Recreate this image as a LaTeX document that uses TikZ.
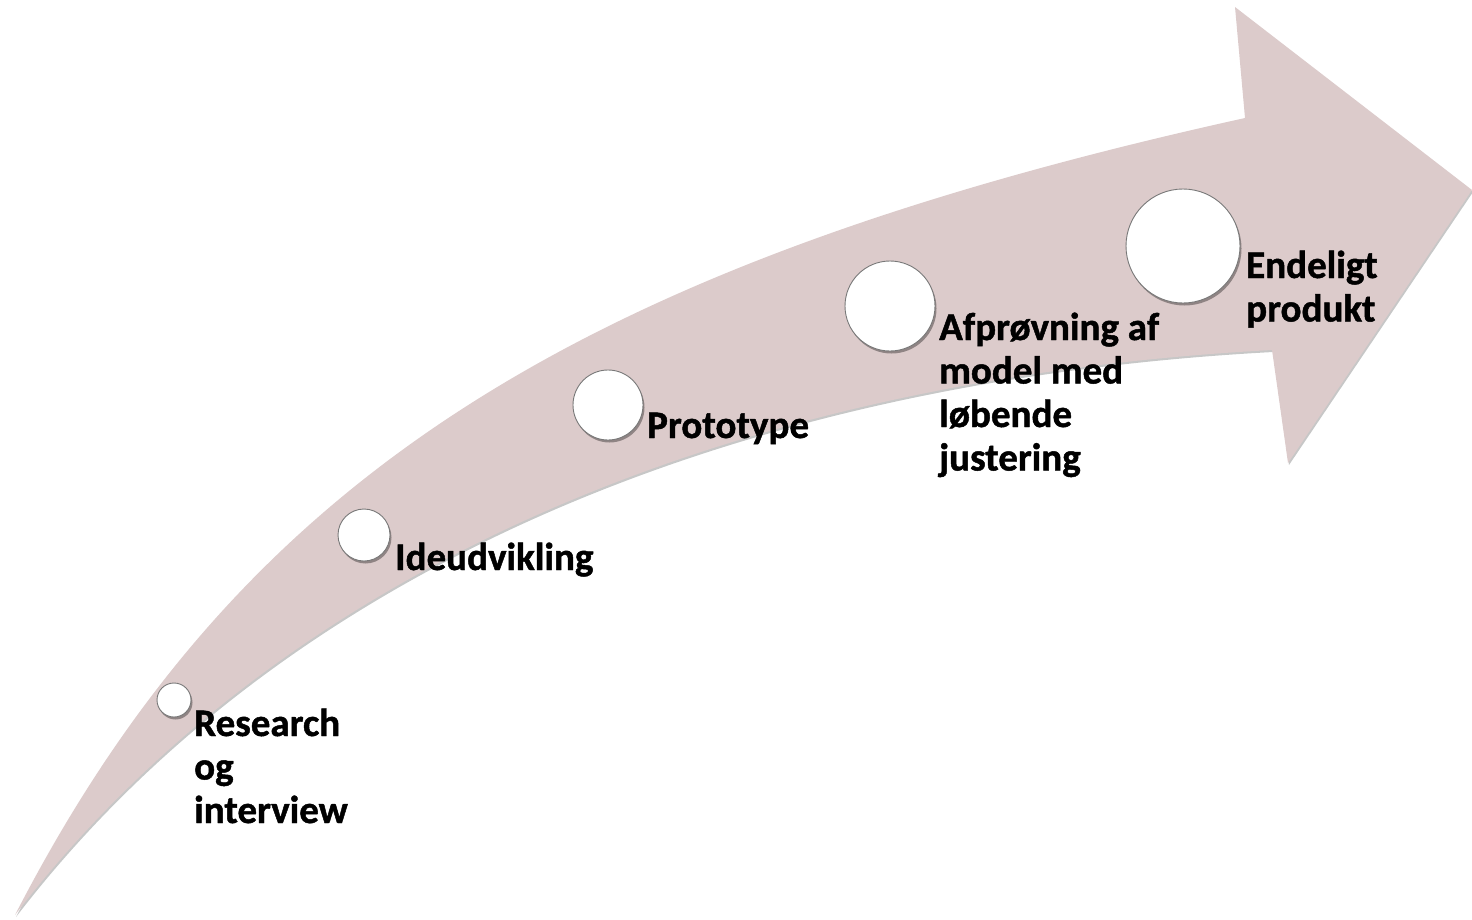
\documentclass[tikz,border=0pt]{standalone}
\usepackage{fontspec}
\setmainfont{Carlito}[BoldFeatures={FakeBold=1.2}]
\usetikzlibrary{shadows}
\definecolor{arrowpink}{RGB}{220,203,203}
\definecolor{dotedge}{RGB}{120,120,120}
\newcommand{\stack}[1]{\vtop{\baselineskip=43.5pt\lineskiplimit=-20pt\halign{##\hfil\cr#1\crcr}}}
\begin{document}
\begin{tikzpicture}[x=1pt,y=-1pt,
  dot/.style={circle,draw=dotedge,line width=0.9pt,fill=white,inner sep=0pt,
    drop shadow={shadow xshift=1.5pt,shadow yshift=-2.5pt,opacity=0.35,fill=black}},
  lbl/.style={anchor=base west,inner sep=0pt,
    font=\fontsize{39}{43.5}\selectfont\bfseries}]
\useasboundingbox (0,0) rectangle (1472,919);
% arrow body
\coordinate (tail) at (15,915);
\coordinate (upjoin) at (1245,118);
\coordinate (toptip) at (1235,7);
\coordinate (point) at (1472,190);
\coordinate (bottip) at (1288,463);
\coordinate (lowjoin) at (1272,350);
\fill[arrowpink, drop shadow={shadow xshift=1pt,shadow yshift=-2pt,opacity=0.22,fill=black}]
  (tail) .. controls (238,482) and (570,267) .. (upjoin)
  -- (toptip) -- (point) -- (bottip) -- (lowjoin)
  .. controls (712,380) and (272,580) .. (tail) -- cycle;
% stage circles
\node[dot,minimum size=34pt] (c1) at (174,700) {};
\node[dot,minimum size=52pt] (c2) at (364,535) {};
\node[dot,minimum size=70pt] (c3) at (608,405) {};
\node[dot,minimum size=90pt] (c4) at (890,306) {};
\node[dot,minimum size=114pt] (c5) at (1183,246) {};
% labels
\node[lbl] (t1) at (194,736) {\stack{Research\cr og\cr interview}};
\node[lbl] (t2) at (395,570) {Ideudvikling};
\node[lbl] (t3) at (647,438) {Prototype};
\node[lbl] (t4) at (939,340) {\stack{Afprøvning af\cr model med\cr løbende\cr justering}};
\node[lbl] (t5) at (1246,278) {\stack{Endeligt\cr produkt}};
\end{tikzpicture}
\end{document}
